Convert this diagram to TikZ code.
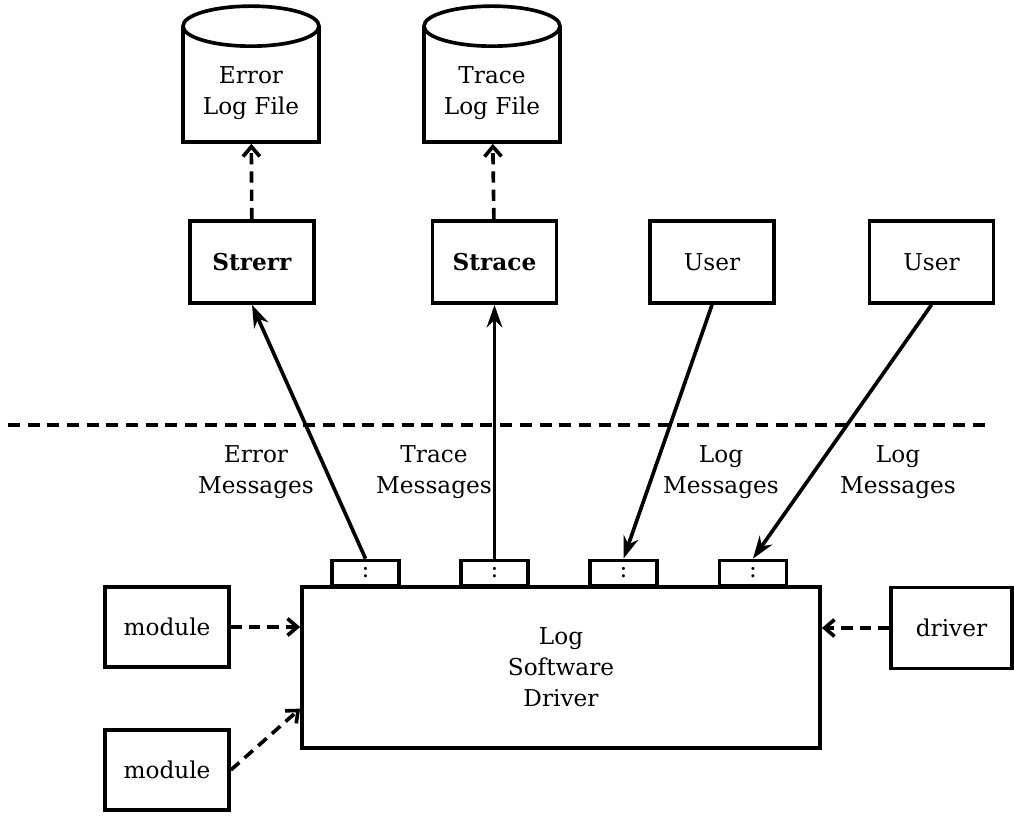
\documentclass[tikz,border=0pt]{standalone}
\usepackage{fontspec}
\setmainfont{DejaVu Serif}
\usetikzlibrary{arrows.meta,calc}

\tikzset{
  box/.style={draw, line width=2.6pt, minimum width=3.1cm, minimum height=2.05cm, align=center},
  logfile/.style={draw, line width=2.6pt, minimum width=3.4cm, minimum height=2.85cm},
  port/.style={draw, line width=2.4pt, minimum width=1.675cm, minimum height=0.625cm, inner sep=0pt},
  msg/.style={line width=2.6pt, -{Stealth[length=16pt,width=11pt]}},
  call/.style={line width=2.6pt, dash pattern=on 8pt off 5pt, -{Straight Barb[length=7pt,width=12pt]}},
  lbl/.style={align=center},
}

\begin{document}
\begin{tikzpicture}[x=0.025cm, y=-0.025cm, every node/.append style={font=\fontsize{16.5}{22}\selectfont}]
        \useasboundingbox (0,0) rectangle (1014,816);

        % Log files
        \node[logfile, label={[lbl, yshift=-0.2cm]center:Error\\Log File}] (errlog) at (251,85) {};
        \node[logfile, label={[lbl, yshift=-0.2cm]center:Trace\\Log File}] (trlog) at (492,85) {};
        \foreach \f in {errlog, trlog} {
            \draw[line width=2.6pt, fill=white] (\f.north) ellipse [x radius=1.7cm, y radius=0.5cm];
        }

        % Readers above the line
        \node[box] (strerr) at (252,262) {\textbf{Strerr}};
        \node[box] (strace) at (494.5,262) {\textbf{Strace}};
        \node[box] (usera) at (712,262) {User};
        \node[box] (userb) at (931.5,262) {User};

        % Boundary
        \draw[line width=2.6pt, dash pattern=on 8.5pt off 5.5pt] (8,425) -- (985,425);

        % Driver and its ports
        \node[draw, line width=2.6pt, minimum width=12.95cm, minimum height=4.025cm, align=center] (logdrv) at (561,667.5) {Log\\Software\\Driver};
        \foreach \p/\x in {pa/365.5, pb/494.5, pc/623.5, pd/753} {
            \node[port, anchor=south] (\p) at (\x,587) {:};
        }

        % Callers
        \node[box, minimum height=2cm] (moda) at (167,627) {module};
        \node[box, minimum height=2cm] (modb) at (167,770) {module};
        \node[box, minimum width=3.025cm, minimum height=2.025cm] (drv) at (951.5,628) {driver};

        % Connections
        \draw[call] (strerr) -- (errlog);
        \draw[call] (strace) -- (trlog);
        \draw[msg] (pa.north) -- (strerr.south);
        \draw[msg] (pb) -- (strace);
        \draw[msg] (usera.south) -- (pc.north);
        \draw[msg] (userb.south) -- (pd.north);
        \draw[call] (moda.east) -- (moda.east -| logdrv.west);
        \draw[call] (modb.east) -- ($(logdrv.south west)!0.25!(logdrv.north west)$);
        \draw[call] (drv.west) -- (drv.west -| logdrv.east);

        % Labels
        \node[lbl] (errmsg) at (256,472) {Error\\Messages};
        \node[lbl] (trmsg) at (434,472) {Trace\\Messages};
        \node[lbl] (logmsga) at (721,472) {Log\\Messages};
        \node[lbl] (logmsgb) at (898,472) {Log\\Messages};
    \end{tikzpicture}
\end{document}
